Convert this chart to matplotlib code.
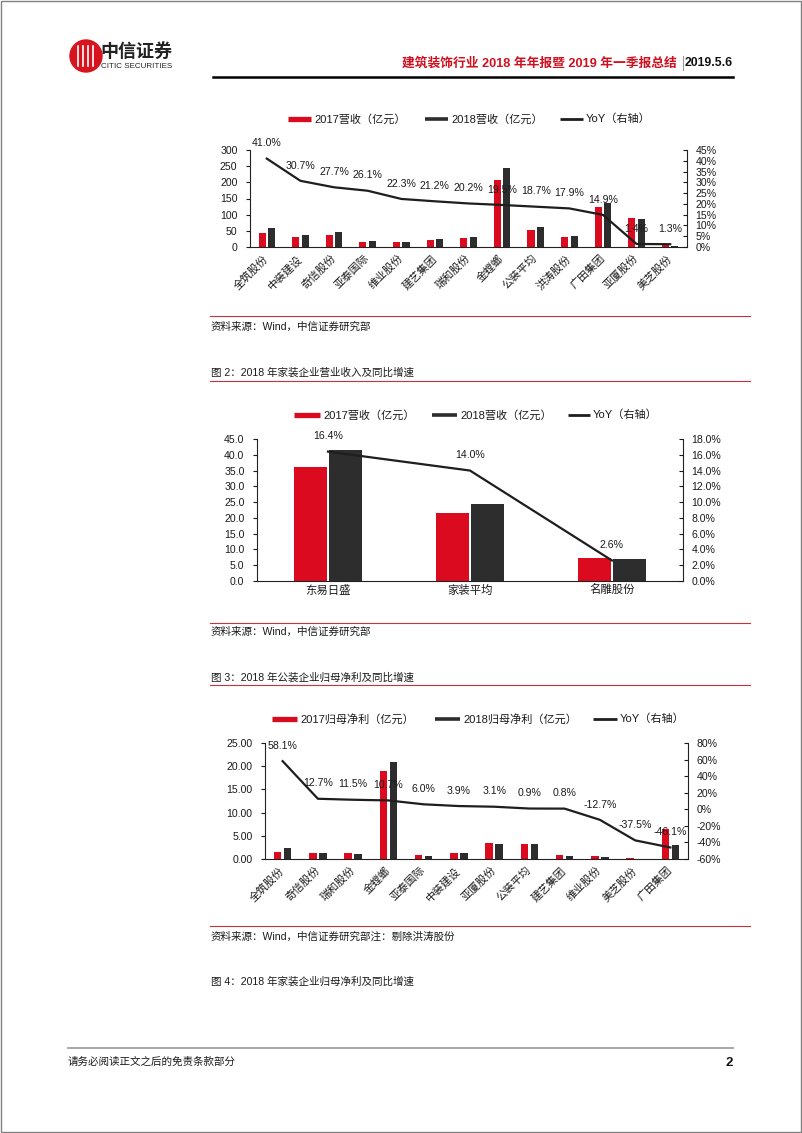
import matplotlib
matplotlib.use('Agg')
import matplotlib.pyplot as plt
from matplotlib.patches import Circle, Rectangle
import numpy as np

plt.rcParams['font.family'] = ['Liberation Sans', 'Noto Sans CJK SC']

RED = '#dc0a1e'
DARK = '#2d2d2d'
LINE = '#1e1e1e'
TXT = '#1a1a1a'
NUM = 7.6

# chart 1: 公装企业营收
pub_names = ['全筑股份', '中装建设', '奇信股份', '亚泰国际', '维业股份', '建艺集团', '瑞和股份',
             '金螳螂', '公装平均', '洪涛股份', '广田集团', '亚厦股份', '美芝股份']
pub_rev_2017 = [43, 30, 38, 15, 17, 22, 28, 208, 54, 31, 123, 89, 8]
pub_rev_2018 = [60, 37, 45, 18, 17, 24, 31, 245, 62, 34, 137, 88, 3]
pub_rev_yoy = [41.0, 30.7, 27.7, 26.1, 22.3, 21.2, 20.2, 19.5, 18.7, 17.9, 14.9, 1.4, 1.3]

# chart 2: 家装企业营收
home_names = ['东易日盛', '家装平均', '名雕股份']
home_rev_2017 = [36.0, 21.5, 7.2]
home_rev_2018 = [41.5, 24.3, 7.0]
home_rev_yoy = [16.4, 14.0, 2.6]

# chart 3: 公装企业归母净利
np_names = ['全筑股份', '奇信股份', '瑞和股份', '金螳螂', '亚泰国际', '中装建设', '亚厦股份',
            '公装平均', '建艺集团', '维业股份', '美芝股份', '广田集团']
np_2017 = [1.5, 1.3, 1.2, 19.0, 0.9, 1.4, 3.4, 3.3, 0.8, 0.7, 0.25, 6.5]
np_2018 = [2.3, 1.3, 1.0, 21.0, 0.75, 1.3, 3.3, 3.2, 0.55, 0.35, 0.05, 3.1]
np_yoy = [58.1, 12.7, 11.5, 10.7, 6.0, 3.9, 3.1, 0.9, 0.8, -12.7, -37.5, -46.1]

W, H = 802, 1133
fig = plt.figure(figsize=(W / 100, H / 100), dpi=100)


def box(l, t, r, b):
    return [l / W, 1 - b / H, (r - l) / W, (b - t) / H]


def combo_chart(rect, names, v17, v18, yoy, left_lim, left_ticks, left_fmt,
                right_lim, right_ticks, right_fmt, bar_w, offs, rotate):
    ax = fig.add_axes(rect)
    ax.set_facecolor('none')
    x = np.arange(len(names))
    ax.bar(x - offs, v17, bar_w, color=RED, zorder=2)
    ax.bar(x + offs, v18, bar_w, color=DARK, zorder=2)
    ax.set_xlim(-0.5, len(names) - 0.5)
    ax.set_ylim(*left_lim)
    ax.set_yticks(left_ticks)
    ax.set_yticklabels([left_fmt.format(t) for t in left_ticks])
    ax.set_xticks(x)
    if rotate:
        ax.set_xticklabels(names, rotation=45, ha='right', va='center',
                           rotation_mode='anchor', fontsize=7.8, color=TXT)
        ax.tick_params(axis='x', length=0, pad=7)
    else:
        ax.set_xticklabels(names, fontsize=8.2, color=TXT)
        ax.tick_params(axis='x', length=0, pad=3)
    ax.tick_params(axis='y', direction='out', length=3, labelsize=NUM, pad=6, colors=TXT)
    ax.spines['top'].set_visible(False)
    ax.spines['right'].set_visible(False)
    ax.spines['left'].set_color('#222')
    ax.spines['bottom'].set_color('#222')

    ax2 = ax.twinx()
    ax2.plot(x, yoy, color=LINE, lw=1.6, zorder=3)
    for xi, v in zip(x, yoy):
        ax2.annotate(f'{v:.1f}%', (xi, v), xytext=(0, 11), textcoords='offset points',
                     ha='center', va='center', fontsize=NUM, color=TXT)
    ax2.set_ylim(*right_lim)
    ax2.set_yticks(right_ticks)
    ax2.set_yticklabels([right_fmt.format(t) for t in right_ticks])
    ax2.tick_params(axis='y', direction='in', length=3, labelsize=NUM, pad=6, colors=TXT)
    ax2.spines['top'].set_visible(False)
    ax2.spines['left'].set_visible(False)
    ax2.spines['bottom'].set_visible(False)
    ax2.spines['right'].set_color('#222')
    return ax, ax2


combo_chart(box(250, 150, 687, 247), pub_names, pub_rev_2017, pub_rev_2018, pub_rev_yoy,
            (0, 300), range(0, 301, 50), '{}', (0, 45), range(0, 46, 5), '{}%',
            0.21, 0.14, True)

combo_chart(box(257, 439, 683, 581), home_names, home_rev_2017, home_rev_2018, home_rev_yoy,
            (0, 45), np.arange(0, 45.1, 5), '{:.1f}', (0, 18), np.arange(0, 18.1, 2), '{:.1f}%',
            0.235, 0.122, False)

combo_chart(box(265, 743, 688, 859), np_names, np_2017, np_2018, np_yoy,
            (0, 25), np.arange(0, 25.1, 5), '{:.2f}', (-60, 80), range(-60, 81, 20), '{}%',
            0.21, 0.14, True)

# page decoration in pixel coordinates
page = fig.add_axes([0, 0, 1, 1], zorder=-1)
page.set_xlim(0, W)
page.set_ylim(H, 0)
page.axis('off')

page.add_patch(Rectangle((0.5, 0.5), W - 2, H - 2, fill=False, edgecolor='#808080', lw=1))

# logo
page.add_patch(Circle((86, 56), 16, color='#d7141e'))
for dx in (-8, -3, 2, 7):
    page.plot([86 + dx, 86 + dx], [46, 66], color='white', lw=1.2)
page.text(100, 52, '中信证券', fontsize=13, fontweight='bold', va='center', color='#222')
page.text(101, 67, 'CITIC SECURITIES', fontsize=5.8, va='center', color='#222')

# header
page.text(677, 63, '建筑装饰行业 2018 年年报暨 2019 年一季报总结', ha='right', va='center',
          fontsize=9.2, fontweight='bold', color='#d0101e')
page.plot([683, 683], [56, 70], color='#999', lw=0.8)
page.text(733, 63, '2019.5.6', ha='right', va='center', fontsize=8.8, fontweight='bold', color='#111')
page.plot([213, 733], [77, 77], color='black', lw=1.8)


def legend_row(y, items):
    for x0, x1, lw, color, label in items:
        page.plot([x0, x1], [y, y], color=color, lw=lw, solid_capstyle='butt')
        page.text(x1 + 3, y, label, va='center', fontsize=8, color=TXT)


legend_row(119, [(288, 311, 3.8, RED, '2017营收（亿元）'),
                 (425, 448, 2.6, DARK, '2018营收（亿元）'),
                 (560, 583, 2.0, LINE, 'YoY（右轴）')])
legend_row(415, [(294, 320, 3.8, RED, '2017营收（亿元）'),
                 (432, 457, 2.6, DARK, '2018营收（亿元）'),
                 (568, 590, 2.0, LINE, 'YoY（右轴）')])
legend_row(719, [(272, 297, 3.8, RED, '2017归母净利（亿元）'),
                 (435, 460, 2.6, DARK, '2018归母净利（亿元）'),
                 (593, 617, 2.0, LINE, 'YoY（右轴）')])


def rule(y):
    page.plot([210, 750], [y, y], color='#c8323c', lw=0.8)


def note(y, s):
    page.text(211, y, s, va='center', fontsize=7.6, color=TXT)


rule(316)
note(327, '资料来源：Wind，中信证券研究部')
note(373, '图 2：2018 年家装企业营业收入及同比增速')
rule(381)
rule(623)
note(632, '资料来源：Wind，中信证券研究部')
note(678, '图 3：2018 年公装企业归母净利及同比增速')
rule(685)
rule(926)
note(937, '资料来源：Wind，中信证券研究部注：剔除洪涛股份')
note(982, '图 4：2018 年家装企业归母净利及同比增速')

# footer
page.plot([68, 733], [1048, 1048], color='#a0a0a0', lw=1.3)
page.text(68, 1062, '请务必阅读正文之后的免责条款部分', va='center', fontsize=7.6, color=TXT)
page.text(733, 1063, '2', ha='right', va='center', fontsize=9.5, fontweight='bold', color='#111')

fig.savefig('out.png', dpi=100)
